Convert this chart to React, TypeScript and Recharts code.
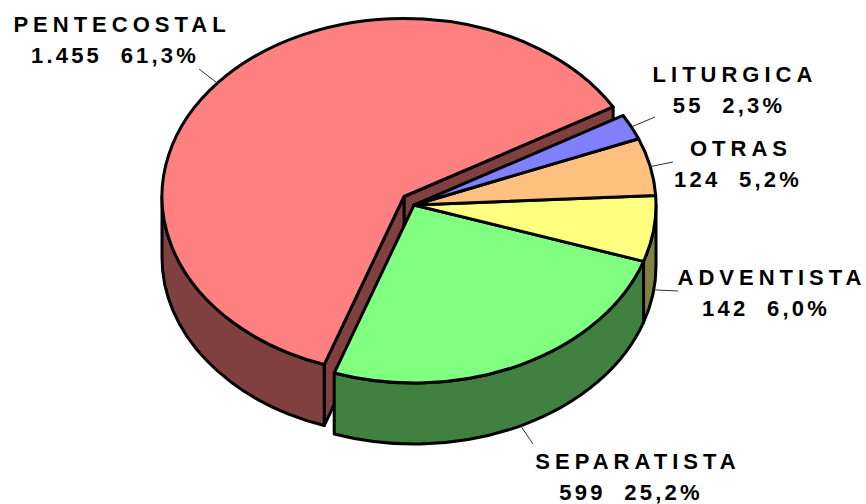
import React from "react";
import { PieChart, Pie } from "recharts";

const categories = ["PENTECOSTAL", "SEPARATISTA", "ADVENTISTA", "OTRAS", "LITURGICA"];
const counts = [1455, 599, 142, 124, 55];
const countLabels = ["1.455", "599", "142", "124", "55"];
const shareLabels = ["61,3%", "25,2%", "6,0%", "5,2%", "2,3%"];

const topColors = ["#FF8080", "#80FF80", "#FFFF80", "#FFC080", "#8080FF"];
const wallColors = ["#804040", "#408040", "#808040", "#806040", "#404080"];

const CX = 414;
const CY = 205;
const RX = 242;
const RY = 178;
const DEPTH = 61;
const EXPLODE = [
  [-10, -8.5],
  [0, 0],
  [0, 0],
  [0, 0],
  [0, 0],
];
// label centre x, first baseline, second-line centre x, leader end
const labelLayout = [
  { x1: 122, y1: 32, x2: 115, y2: 63, lx: 199, ly: 69 },
  { x1: 638, y1: 469, x2: 631, y2: 500, lx: 533, ly: 444 },
  { x1: 772, y1: 285, x2: 766, y2: 316, lx: 678, ly: 291 },
  { x1: 741, y1: 156, x2: 738, y2: 187, lx: 673, ly: 162 },
  { x1: 735, y1: 82, x2: 729, y2: 113, lx: 655, ly: 117 },
];

const table = categories.map((name, i) => ({
  name,
  value: counts[i],
  fill: topColors[i],
  wall: wallColors[i],
  idx: i,
}));

const rad = (d: number) => (d * Math.PI) / 180;
const px = (cx: number, t: number) => cx + RX * Math.cos(rad(t));
const py = (cy: number, t: number) => cy - RY * Math.sin(rad(t));

function Slice(props: any) {
  const { startAngle, endAngle, payload, fill } = props;
  const item = payload?.payload ?? payload;
  const idx = item.idx;
  const [dx, dy] = EXPLODE[idx];
  const cx = CX + dx;
  const cy = CY + dy;
  const s = startAngle;
  const e = endAngle;
  const large = Math.abs(e - s) > 180 ? 1 : 0;
  const top = `M${cx},${cy} L${px(cx, s)},${py(cy, s)} A${RX},${RY} 0 ${large} 0 ${px(cx, e)},${py(cy, e)} Z`;

  const f0 = Math.max(s, 180);
  const f1 = Math.min(e, 360);
  const wall =
    f1 > f0
      ? `M${px(cx, f0)},${py(cy, f0)} A${RX},${RY} 0 0 0 ${px(cx, f1)},${py(cy, f1)} L${px(cx, f1)},${py(cy, f1) + DEPTH} A${RX},${RY} 0 0 1 ${px(cx, f0)},${py(cy, f0) + DEPTH} Z`
      : null;
  const face = (t: number) =>
    `M${cx},${cy} L${px(cx, t)},${py(cy, t)} L${px(cx, t)},${py(cy, t) + DEPTH} L${cx},${cy + DEPTH} Z`;
  const exploded = dx !== 0 || dy !== 0;
  const stroke = { stroke: "#000", strokeWidth: 3, strokeLinejoin: "round" as const };
  return (
    <g>
      {exploded && <path d={face(s)} fill={item.wall} {...stroke} />}
      {exploded && <path d={face(e)} fill={item.wall} {...stroke} />}
      {wall && <path d={wall} fill={item.wall} {...stroke} />}
      <path d={top} fill={fill ?? item.fill} {...stroke} />
    </g>
  );
}

function SliceLabel(props: any) {
  const idx = props.index;
  const L = labelLayout[idx];
  const [dx, dy] = EXPLODE[idx];
  const mid = props.midAngle;
  const sx = px(CX + dx, mid);
  const front = Math.sin(rad(mid)) < 0;
  const sy = py(CY + dy, mid) + (front ? DEPTH : 0);
  const textStyle: React.CSSProperties = {
    fontFamily: "'Liberation Sans', Arial, sans-serif",
    fontWeight: 700,
    fontSize: 22,
    letterSpacing: 5,
    whiteSpace: "pre",
  };
  return (
    <g>
      <line x1={sx} y1={sy} x2={L.lx} y2={L.ly} stroke="#333" strokeWidth={1} />
      <text x={L.x1} y={L.y1} textAnchor="middle" fill="#000" style={textStyle}>
        {categories[idx]}
      </text>
      <text x={L.x2} y={L.y2} textAnchor="middle" fill="#000" style={{ ...textStyle, letterSpacing: 3.2 }}>
        {countLabels[idx] + "  " + shareLabels[idx]}
      </text>
    </g>
  );
}

export default function App() {
  return (
    <div style={{ position: "absolute", left: 0, top: 0, width: 866, height: 504, background: "#fff" }}>
      <PieChart width={866} height={504} margin={{ top: 0, right: 0, bottom: 0, left: 0 }}>
        <Pie
          data={table}
          dataKey="value"
          nameKey="name"
          cx={CX}
          cy={CY}
          innerRadius={0}
          outerRadius={RX}
          startAngle={30.2}
          endAngle={390.2}
          paddingAngle={0}
          isAnimationActive={false}
          shape={Slice}
          label={SliceLabel}
          labelLine={false}
        />
      </PieChart>
    </div>
  );
}
